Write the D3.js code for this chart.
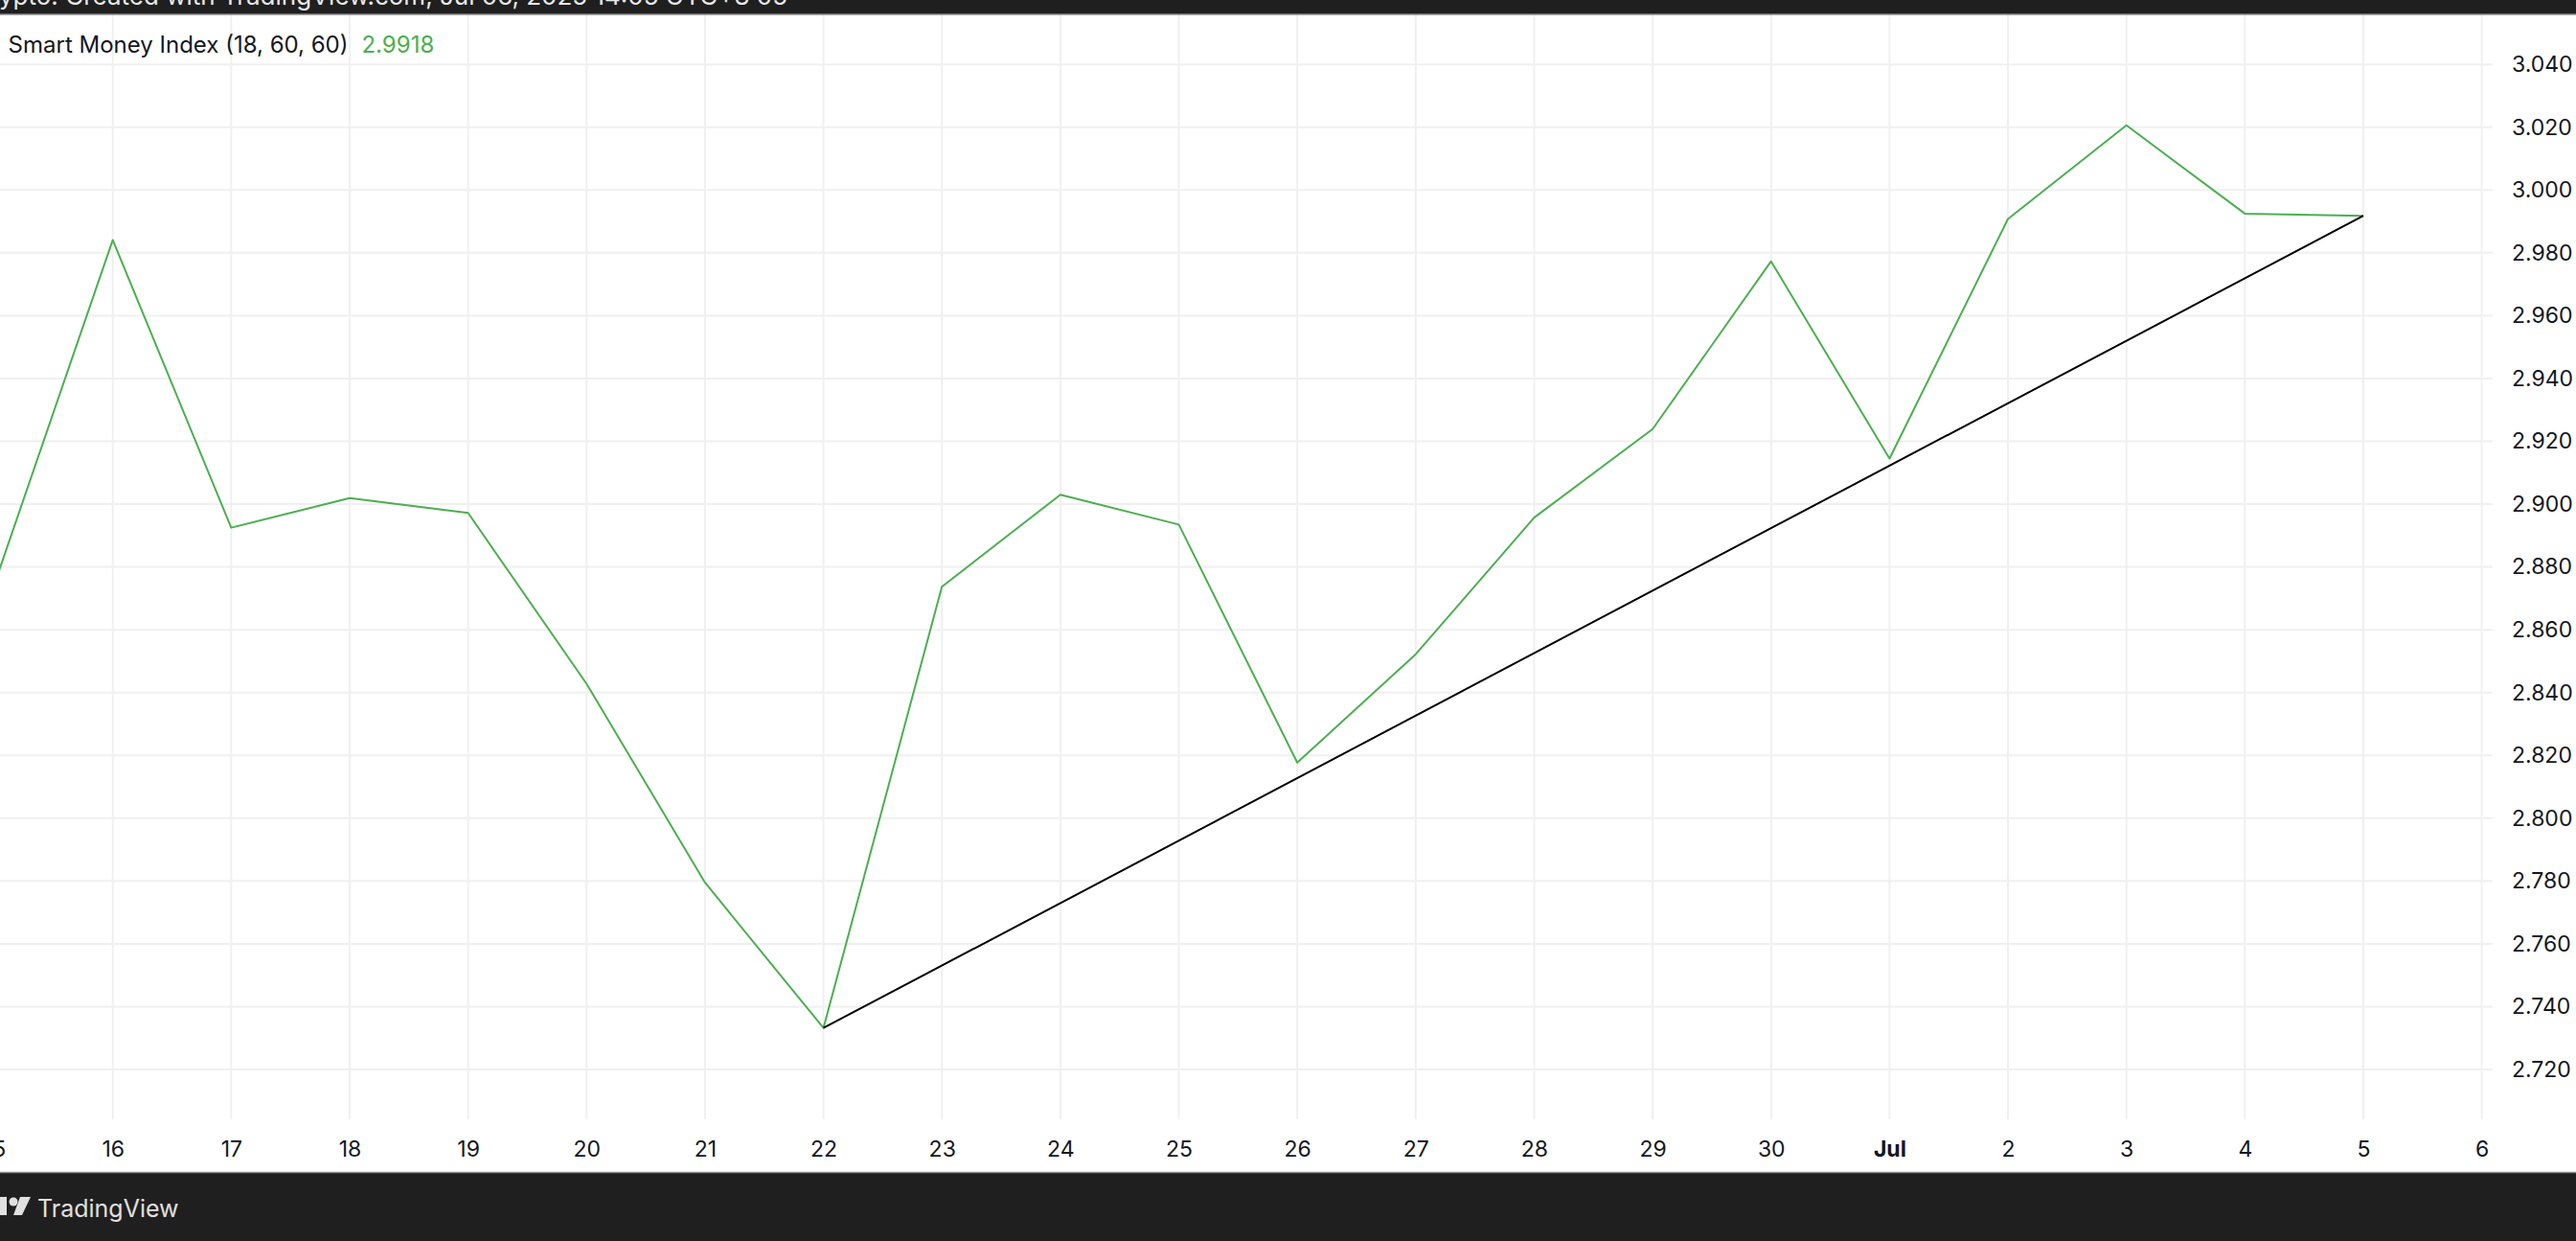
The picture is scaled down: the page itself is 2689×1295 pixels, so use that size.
<!DOCTYPE html>
<html><head><meta charset="utf-8">
<script src="https://cdn.jsdelivr.net/npm/d3@7"></script>
<style>html,body{margin:0;padding:0;background:#fff;overflow:hidden}</style>
</head><body>
<svg id="chart" width="2689" height="1295"></svg>
<script>
// ---------- data ----------
const days = ["2025-06-15","2025-06-16","2025-06-17","2025-06-18","2025-06-19","2025-06-20","2025-06-21",
  "2025-06-22","2025-06-23","2025-06-24","2025-06-25","2025-06-26","2025-06-27","2025-06-28","2025-06-29",
  "2025-06-30","2025-07-01","2025-07-02","2025-07-03","2025-07-04","2025-07-05"];
const smiValues = [2.8744,2.9841,2.8925,2.9019,2.8972,2.8428,2.7795,2.7332,2.8737,2.9030,2.8935,2.8177,
  2.8522,2.8957,2.9239,2.9773,2.9145,2.9908,3.0206,2.9925,2.9918];
const trendDates = ["2025-06-22","2025-07-05"];
const trendValues = [2.7332, 2.9918];
const xTickDates = ["2025-06-15","2025-06-16","2025-06-17","2025-06-18","2025-06-19","2025-06-20","2025-06-21",
  "2025-06-22","2025-06-23","2025-06-24","2025-06-25","2025-06-26","2025-06-27","2025-06-28","2025-06-29",
  "2025-06-30","2025-07-01","2025-07-02","2025-07-03","2025-07-04","2025-07-05","2025-07-06"];
const xTickLabels = ["15","16","17","18","19","20","21","22","23","24","25","26","27","28","29","30","Jul","2","3","4","5","6"];
const yTickValues = [2.72,2.74,2.76,2.78,2.80,2.82,2.84,2.86,2.88,2.90,2.92,2.94,2.96,2.98,3.00,3.02,3.04];
const legendTitle = "Smart Money Index (18, 60, 60)";
const legendValue = "2.9918";
const headerText = "coincrypto. Created with TradingView.com, Jul 06, 2025 14:05 UTC+8 05";
const brandText = "TradingView";

// ---------- layout ----------
const W = 2689, H = 1295;
const plotTop = 15, plotBottom = 1168, plotRight = 2602;
const FONT = "Inter, 'Noto Sans', sans-serif";
const GREEN = "#4caf50", TEXT = "#131722", GRID = "#f0f0f1";
const parse = d3.utcParse("%Y-%m-%d");

const x = d3.scaleUtc().domain([parse("2025-06-16"), parse("2025-07-05")]).range([117.7, 2467]);
const y = d3.scaleLinear().domain([2.72, 3.0]).range([1116, 198.3]);

const svg = d3.select("#chart");
svg.append("rect").attr("width", W).attr("height", H).attr("fill", "#fff");

const defs = svg.append("defs");
defs.append("clipPath").attr("id", "plotclip").append("rect")
  .attr("x", 0).attr("y", plotTop).attr("width", plotRight).attr("height", plotBottom - plotTop);

// grid
const grid = svg.append("g");
grid.selectAll("line.v").data(xTickDates).join("line")
  .attr("x1", d => x(parse(d))).attr("x2", d => x(parse(d)))
  .attr("y1", plotTop).attr("y2", plotBottom)
  .attr("stroke", GRID).attr("stroke-width", 2);
grid.selectAll("line.h").data(yTickValues).join("line")
  .attr("x1", 0).attr("x2", plotRight)
  .attr("y1", d => y(d)).attr("y2", d => y(d))
  .attr("stroke", GRID).attr("stroke-width", 2);

// series
const plot = svg.append("g").attr("clip-path", "url(#plotclip)");
const series = days.map((d, i) => ({date: parse(d), v: smiValues[i]}));
const line = d3.line().x(d => x(d.date)).y(d => y(d.v));
plot.append("path").datum(series).attr("d", line)
  .attr("fill", "none").attr("stroke", GREEN).attr("stroke-width", 2).attr("stroke-linejoin", "round");
const trend = trendDates.map((d, i) => ({date: parse(d), v: trendValues[i]}));
plot.append("path").datum(trend).attr("d", line)
  .attr("fill", "none").attr("stroke", "#000").attr("stroke-width", 2);

// y axis
const yAxis = d3.axisRight(y).tickValues(yTickValues).tickSize(0).tickPadding(0).tickFormat(d3.format(".3f"));
const gy = svg.append("g").attr("transform", "translate(2622,0)").call(yAxis);
gy.select(".domain").remove();
gy.selectAll("text").attr("font-family", FONT).attr("font-size", 23).attr("fill", TEXT).attr("text-anchor", "start");

// x axis
const xAxis = d3.axisBottom(x).tickValues(xTickDates.map(parse)).tickSize(0).tickPadding(23)
  .tickFormat((d, i) => xTickLabels[i]);
const gx = svg.append("g").attr("transform", `translate(0,${plotBottom})`).call(xAxis);
gx.select(".domain").remove();
gx.selectAll("text").attr("font-family", FONT).attr("font-size", 23).attr("fill", TEXT)
  .attr("font-weight", (d, i) => xTickLabels[i] === "Jul" ? 700 : 400);

// legend
const lg = svg.append("text").attr("x", 8.6).attr("y", 55).attr("font-family", FONT).attr("font-size", 24);
lg.append("tspan").attr("fill", TEXT).text(legendTitle);
lg.append("tspan").attr("fill", GREEN).attr("dx", 14).text(legendValue);

// header bar
svg.append("rect").attr("x", 0).attr("y", 0).attr("width", W).attr("height", 15).attr("fill", "#1f1f1f");
svg.append("line").attr("x1", 0).attr("x2", W).attr("y1", 15).attr("y2", 15).attr("stroke", "#8a8a8a").attr("stroke-width", 1.5);
svg.append("text").attr("x", 822).attr("y", 5).attr("text-anchor", "end")
  .attr("font-family", FONT).attr("font-size", 26).attr("fill", "#e8e8e8").text(headerText);

// footer bar
svg.append("rect").attr("x", 0).attr("y", 1224).attr("width", W).attr("height", H - 1224).attr("fill", "#1f1f1f");
svg.append("line").attr("x1", 0).attr("x2", W).attr("y1", 1223.5).attr("y2", 1223.5).attr("stroke", "#8a8a8a").attr("stroke-width", 1.5);
const logo = svg.append("g").attr("fill", "#e0e0e0");
logo.append("rect").attr("x", -4).attr("y", 1249).attr("width", 11).attr("height", 19);
logo.append("circle").attr("cx", 14).attr("cy", 1254).attr("r", 4.5);
logo.append("path").attr("d", "M21,1249 L32,1249 L23,1268 L14,1268 Z");
svg.append("text").attr("x", 39).attr("y", 1270).attr("font-family", FONT).attr("font-size", 25)
  .attr("fill", "#e0e0e0").text(brandText);
</script>
</body></html>
